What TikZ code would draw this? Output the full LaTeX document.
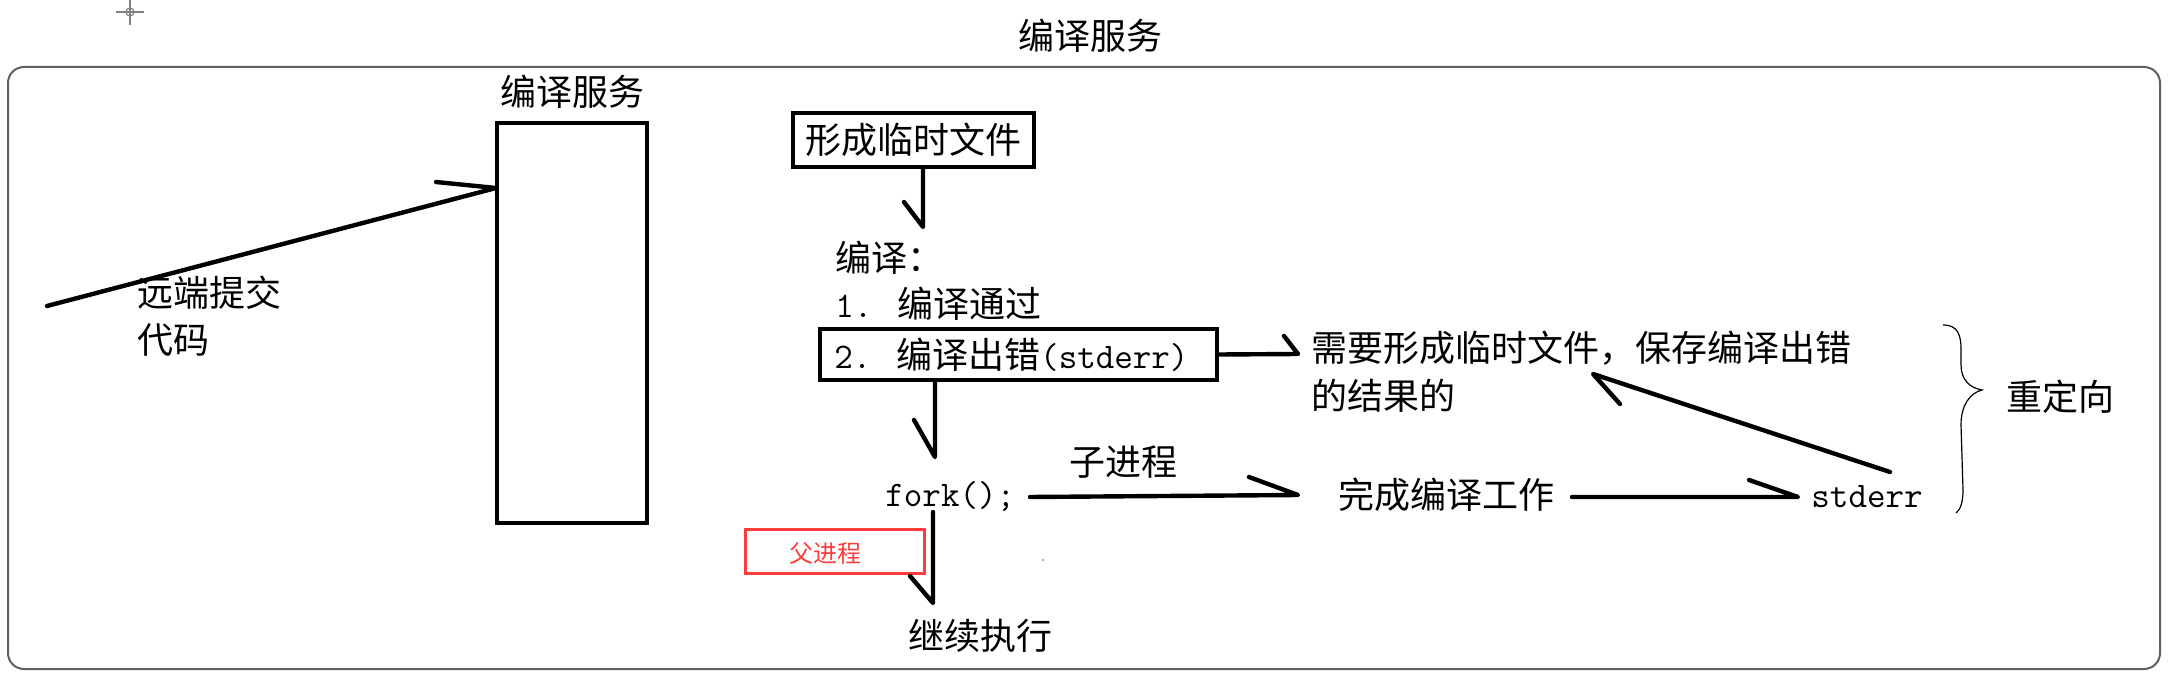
\documentclass[tikz,border=0pt]{standalone}
\usepackage{fontspec}
\setmainfont{Noto Sans CJK SC}
\newcommand\bigtxt{\fontsize{18pt}{22pt}\selectfont}
\newcommand\smalltxt{\fontsize{12pt}{14pt}\selectfont}
\definecolor{framecol}{RGB}{96,96,96}
\definecolor{redbox}{RGB}{255,60,60}
\begin{document}
\begin{tikzpicture}[x=0.5pt,y=-0.5pt,
  txt/.style={inner sep=0pt, font=\bigtxt},
  tbox/.style={draw, line width=2pt, inner sep=0pt},
  conn/.style={line width=2.2pt, line cap=round, line join=round},
]
\useasboundingbox (0,0) rectangle (2177,699);
% anchor mark
\draw[gray, line width=0.6pt] (130,0) -- (130,25) (116,12) -- (144,12);
\draw[gray, line width=0.6pt] (130,12) circle (4);
% outer frame
\draw[framecol, line width=1pt, rounded corners=8pt] (8,67) rectangle (2160,669);
% titles
\node[txt, anchor=base] (title) at (1090,50) {编译服务};
\node[txt, anchor=base] (svclbl) at (572,106) {编译服务};
\node[draw, line width=1.8pt, minimum width=75pt, minimum height=200pt, inner sep=0pt] (svc) at (572,323) {};
\node[txt, anchor=base west] (rem1) at (137,307) {远端提交};
\node[txt, anchor=base west] (rem2) at (137,354) {代码};
% middle column
\node[tbox, txt, draw, line width=2pt, minimum width=120.5pt, minimum height=27pt] (tmp) at (913.5,140) {形成临时文件};
\node[txt, anchor=base west] (comp) at (835,272) {编译：};
\node[txt, anchor=base west] (ok) at (835,318) {{\ttfamily 1. }编译通过};
\node[tbox, minimum width=198.5pt, minimum height=25.5pt] (err) at (1018.5,354.5) {};
\node[txt, anchor=base west] (errt) at (834,369) {{\ttfamily 2. }编译出错{\ttfamily (stderr)}};
\node[txt, anchor=base west] (fork) at (885,507) {\ttfamily fork();};
\node[draw=redbox, line width=1.5pt, minimum width=89.5pt, minimum height=22pt, inner sep=0pt] (parent) at (834.5,551) {};
\node[inner sep=0pt, font=\smalltxt, text=redbox, anchor=base] (parentt) at (825,562) {父进程};
\node[txt, anchor=base] (cont) at (980,649) {继续执行};
% right part
\node[txt, anchor=base west] (need1) at (1311,362) {需要形成临时文件，保存编译出错};
\node[txt, anchor=base west] (need2) at (1311,410) {的结果的};
\node[txt, anchor=base] (child) at (1123,476) {子进程};
\node[txt, anchor=base] (done) at (1446,509) {完成编译工作};
\node[txt, anchor=base west] (stderr) at (1811,508) {\ttfamily stderr};
\node[txt, anchor=base] (redir) at (2060,411) {重定向};
% brace
\draw[line width=0.6pt] (1943,325) .. controls (1958,325) and (1961,335) .. (1961,350)
  -- (1961,365) .. controls (1961,380) and (1970,388) .. (1982,390)
  .. controls (1970,393) and (1961,405) .. (1961,425)
  -- (1963,490) .. controls (1963,503) and (1960,510) .. (1956,513);
% connectors
\coordinate (a1s) at (47,306);
\coordinate (a1t) at (496,188);
\draw[conn] (a1s) -- (a1t) -- ++(-60,-6);
\coordinate (a2t) at (923,227);
\draw[conn] (a2t |- tmp.south) -- (a2t) -- ++(-19,-25);
\coordinate (a3t) at (1298,354);
\draw[conn] (err.east) -- (a3t) -- ++(-14,-18);
\coordinate (a4t) at (935,457);
\draw[conn] (a4t |- err.south) -- (a4t) -- ++(-21,-37);
\coordinate (a5s) at (933,512);
\coordinate (a5t) at (933,603);
\draw[conn] (a5s) -- (a5t) -- ++(-23,-27);
\coordinate (a6s) at (1030,497);
\coordinate (a6t) at (1298,495);
\draw[conn] (a6s) -- (a6t) -- ++(-49,-18);
\coordinate (a7s) at (1572,497);
\coordinate (a7t) at (1798,497);
\draw[conn] (a7s) -- (a7t) -- ++(-49,-17);
\coordinate (a8s) at (1890,472);
\coordinate (a8t) at (1593,374);
\draw[conn] (a8s) -- (a8t) -- ++(27,30);
% stray dot
\fill[gray] (1043,560) circle (1);
\end{tikzpicture}
\end{document}
